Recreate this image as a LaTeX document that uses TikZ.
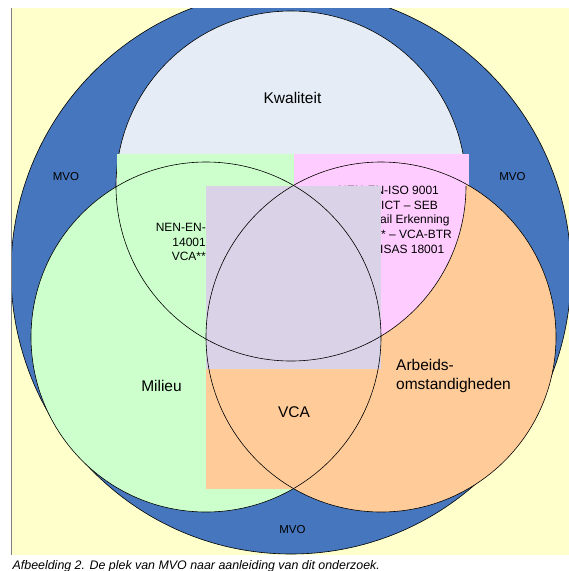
\documentclass[tikz,border=0pt]{standalone}
\usepackage{fontspec}
\setmainfont{Liberation Sans}
\usepackage{tikz}
\usetikzlibrary{positioning}
\definecolor{paper}{HTML}{FFFFCC}
\definecolor{mvo}{HTML}{4677BE}
\definecolor{kwal}{HTML}{E5ECF6}
\definecolor{milieu}{HTML}{CCFFCC}
\definecolor{arbo}{HTML}{FFCC99}
\definecolor{roze}{HTML}{FFCCFF}
\definecolor{lila}{HTML}{DAD3E7}

\begin{document}
\begin{tikzpicture}[
        x=1pt,y=-1pt,
        ring/.style={draw=black,line width=0.6pt},
        lbl/.style={inner sep=0pt,font=\fontsize{15.5}{19}\selectfont},
        norm/.style={inner sep=0pt,font=\fontsize{12}{14.6}\selectfont},
        tag/.style={inner sep=0pt,font=\fontsize{11.5}{14}\selectfont}
      ]
      \useasboundingbox (0,0) rectangle (569,571);
      \fill[paper] (11,8) rectangle (569,555);
      \begin{scope}
        \clip (11,8) rectangle (569,555);
        \filldraw[fill=mvo,ring] (291,272) ellipse [x radius=280,y radius=282];
      \end{scope}
      \draw[gray,line width=0.8pt] (11,8) -- (11,555);
      % kwaliteit
      \filldraw[fill=kwal,ring] (291,186) circle [radius=175];
      \fill[milieu] (117,154) rectangle (294,186);
      \fill[roze] (294,154) rectangle (469,186);
      % milieu en arbo
      \fill[milieu] (206,337) circle [radius=175];
      \fill[arbo] (381,337) circle [radius=175];
      \begin{scope}
        \clip (291,186) circle [radius=175];
        \fill[roze] (381,337) circle [radius=175];
      \end{scope}
      \fill[arbo] (206,186) rectangle (381,489);
      % normen
      \node[norm,anchor=east,align=right] (normL) at (206,242) {NEN-EN-\\14001\\VCA**};
      \node[norm,anchor=west] (normR1) at (338,190) {NEN-EN-ISO 9001};
      \node[norm,anchor=west] (normR2) at (381,205) {ICT -- SEB};
      \node[norm,anchor=west] (normR3) at (380,220) {ail Erkenning};
      \node[norm,anchor=west] (normR4) at (381,234.5) {* -- VCA-BTR};
      \node[norm,anchor=west] (normR5) at (380,249.5) {ISAS 18001};
      \fill[lila] (206,186) rectangle (381,369);
      % contouren
      \draw[ring] (206,337) circle [radius=175];
      \draw[ring] (381,337) circle [radius=175];
      \begin{scope}
        \clip (0,186) rectangle (569,571);
        \draw[ring] (291,186) circle [radius=175];
      \end{scope}
      % labels
      \node[lbl] (kwaliteit) at (292.5,97.5) {Kwaliteit};
      \node[lbl] (milieuLbl) at (161.5,385.5) {Milieu};
      \node[lbl,anchor=west,align=left] (arboLbl) at (396,375.5) {Arbeids-\\omstandigheden};
      \node[lbl] (vca) at (294,412.5) {VCA};
      \node[tag] (mvoL) at (66,177) {MVO};
      \node[tag] (mvoR) at (512.5,177) {MVO};
      \node[tag] (mvoB) at (292.5,530) {MVO};
      \node[inner sep=0pt,anchor=west,font=\fontsize{12.4}{14}\selectfont\itshape] (caption) at (12.5,566)
        {Afbeelding 2. De plek van MVO naar aanleiding van dit onderzoek.};
    \end{tikzpicture}
\end{document}
